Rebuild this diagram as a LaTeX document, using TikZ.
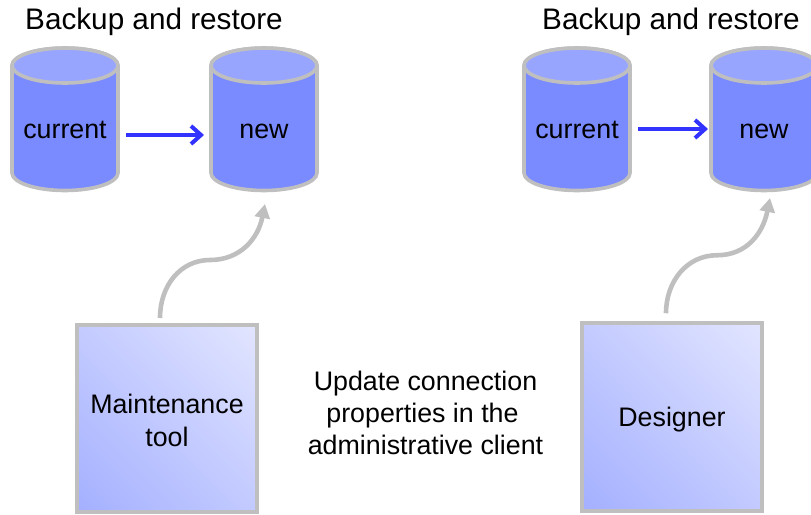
\documentclass[tikz,border=0pt]{standalone}
\usepackage{fontspec}
\setmainfont{Liberation Sans}
\usetikzlibrary{arrows.meta}
\definecolor{edgegray}{HTML}{BFBFBF}
\definecolor{bodyblue}{HTML}{7A8AFF}
\definecolor{topblue}{HTML}{97A5FF}
\definecolor{arrowblue}{HTML}{3333FF}
\definecolor{boxlow}{HTML}{A4B0FF}
\definecolor{boxhigh}{HTML}{E2E5FF}
\pgfdeclareverticalshading{boxramp}{100bp}{color(0bp)=(boxlow); color(15bp)=(boxlow); color(85bp)=(boxhigh); color(100bp)=(boxhigh)}
\tikzset{
  x=1pt,y=-1pt,
  cylshape/.style={draw=edgegray,line width=3.6pt},
  cyltext/.style={minimum width=108pt,minimum height=126pt,inner sep=0pt,outer sep=0pt,
    text height=18pt,text depth=0pt,font=\fontsize{26.8}{32}\selectfont},
  toolbox/.style={draw=edgegray,line width=3.6pt,shade,shading=boxramp,shading angle=-45,
    inner sep=0pt,outer sep=0pt,font=\fontsize{26.8}{33}\selectfont},
  titletext/.style={font=\fontsize{29.7}{32}\selectfont,inner sep=0pt},
  notetext/.style={font=\fontsize{26.8}{32}\selectfont,align=center,inner sep=0pt},
  copyarrow/.style={draw=arrowblue,line width=4.5pt,-{Straight Barb[length=10pt,width=18pt,line width=4pt]}},
  linkarrow/.style={draw=edgegray,line width=4.6pt,-{Triangle[length=14pt,width=15pt]}},
}
\newcommand\dbcylinder[3]{%
  \path[cylshape,fill=bodyblue] (#2-53,65.5) -- (#2-53,173) arc[start angle=180,end angle=360,x radius=53,y radius=-17.5]
     -- (#2+53,65.5) arc[start angle=0,end angle=180,x radius=53,y radius=-17.5] -- cycle;
  \path[cylshape,fill=topblue] (#2,65.5) ellipse[x radius=53,y radius=17.5];
  \node[cyltext] (#1) at (#2,129) {#3};
}
\begin{document}
\begin{tikzpicture}
\useasboundingbox (0,0) rectangle (811,514);
\node[titletext] (t1) at (154,22) {Backup and restore};
\node[titletext] (t2) at (671,22) {Backup and restore};
\dbcylinder{c1}{65}{current}
\dbcylinder{n1}{264}{new}
\dbcylinder{c2}{577}{current}
\dbcylinder{n2}{764}{new}
\node[toolbox,minimum width=179.5pt,minimum height=187pt] (m) at (167,418.5) {\raisebox{5.2pt}[0pt][0pt]{\begin{tabular}[t]{@{}c@{}}Maintenance\\tool\end{tabular}}};
\node[toolbox,minimum width=179.5pt,minimum height=187.5pt] (d) at (672,417) {\raisebox{-9.7pt}[0pt][0pt]{Designer}};
\node[notetext] (u) at (425.5,413) {Update connection\\properties in the\mbox{\hspace{6pt}}\\administrative client};
\draw[copyarrow] ([shift={(7,6)}]c1.east) -- ([shift={(-6,6)}]n1.west);
\draw[copyarrow] ([shift={(7,0)}]c2.east) -- ([shift={(-2,0)}]n2.west);
\draw[linkarrow] ([shift={(-7,-7)}]m.north) .. controls +(0,-32) and +(-30,0) .. ([shift={(43,-65)}]m.north) .. controls +(30,0) and +(-7,35) .. ([shift={(1,12)}]n1.south);
\draw[linkarrow] ([shift={(-6,-10)}]d.north) .. controls +(0,-32) and +(-30,0) .. ([shift={(45,-68)}]d.north) .. controls +(30,0) and +(-7,35) .. ([shift={(6,6)}]n2.south);
\end{tikzpicture}
\end{document}
